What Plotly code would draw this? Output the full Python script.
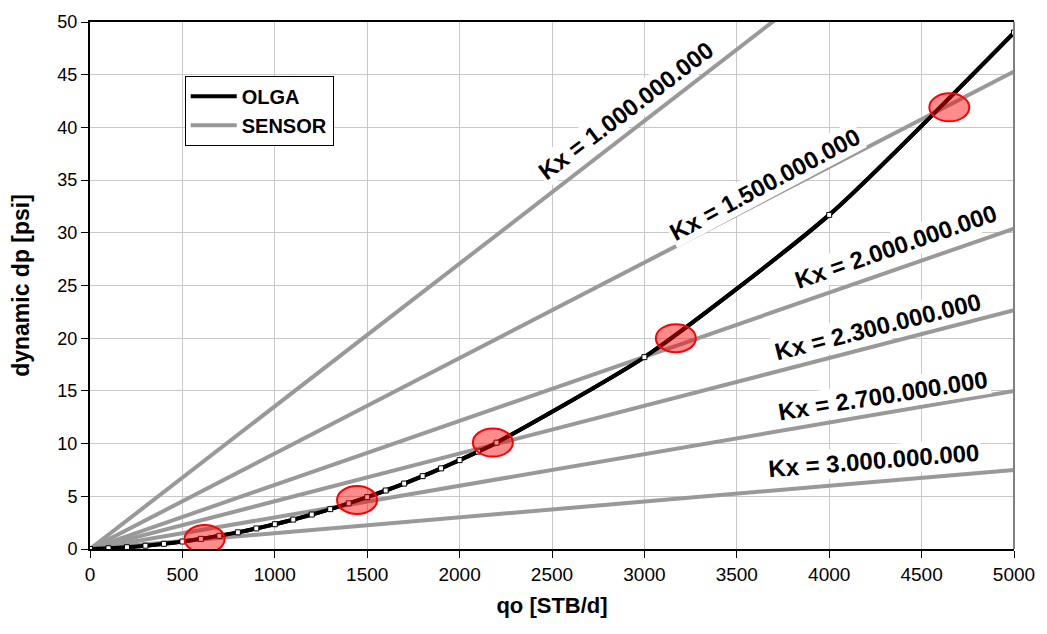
import plotly.graph_objects as go

# ---- data ----
olga_q = [0, 100, 200, 300, 400, 500, 600, 700, 800, 900, 1000, 1100, 1200, 1300,
          1400, 1500, 1600, 1700, 1800, 1900, 2000, 2100, 2200, 3000, 4000, 5000]
olga_dp = [0.0, 0.07, 0.17, 0.31, 0.49, 0.71, 0.96, 1.25, 1.58, 1.95, 2.35, 2.79, 3.27, 3.78,
           4.33, 4.92, 5.55, 6.21, 6.91, 7.65, 8.43, 9.24, 10.09, 18.2, 31.7, 49.0]

sensor_labels = ["Kx = 1.000.000.000", "Kx = 1.500.000.000", "Kx = 2.000.000.000",
                 "Kx = 2.300.000.000", "Kx = 2.700.000.000", "Kx = 3.000.000.000"]
sensor_q = [0, 5000]
sensor_end_dp = [67.7, 45.3, 30.4, 22.65, 15.0, 7.5]

label_q = [2900, 3650, 4360, 4265, 4290, 4240]
label_dp = [41.6, 34.6, 28.7, 21.1, 14.6, 8.4]
label_angle = [-37, -28, -19, -14, -9, -4.5]

match_q = [620, 1445, 2180, 3170, 4650]
match_dp = [0.95, 4.65, 10.1, 20.0, 41.9]

x_ticks = list(range(0, 5001, 500))
y_ticks = list(range(0, 51, 5))

SENSOR_COLOR = "#999999"
FONT = "Liberation Sans, Arial, sans-serif"

fig = go.Figure()

# OLGA legend/line trace
fig.add_trace(go.Scatter(
    x=olga_q, y=olga_dp, mode="lines", name="<b>OLGA</b>",
    line=dict(color="black", width=4, shape="spline", smoothing=0.6),
    legendrank=1))

for i, (lab, end) in enumerate(zip(sensor_labels, sensor_end_dp)):
    fig.add_trace(go.Scatter(
        x=sensor_q, y=[0, end], mode="lines",
        line=dict(color=SENSOR_COLOR, width=4),
        name="<b>SENSOR</b>", showlegend=(i == 0),
        legendrank=2, hoverinfo="skip"))

# OLGA line drawn again on top, with its data-point markers
fig.add_trace(go.Scatter(
    x=olga_q, y=olga_dp, mode="lines+markers", showlegend=False,
    line=dict(color="black", width=4, shape="spline", smoothing=0.6),
    marker=dict(symbol="square", size=5, color="white",
                line=dict(color="black", width=1))))

for lab, q, dp, ang in zip(sensor_labels, label_q, label_dp, label_angle):
    fig.add_annotation(x=q, y=dp, text="<b>" + lab + "</b>", showarrow=False,
                       textangle=ang, bgcolor="white", borderpad=1,
                       font=dict(family=FONT, size=24, color="black"))

for q, dp in zip(match_q, match_dp):
    fig.add_shape(type="circle", xref="x", yref="y",
                  xsizemode="pixel", ysizemode="pixel",
                  xanchor=q, yanchor=dp, x0=-20, x1=20, y0=-14, y1=14,
                  fillcolor="rgba(255,0,0,0.45)",
                  line=dict(color="#ff0000", width=2), layer="above")

# right border (grey)
fig.add_shape(type="line", xref="paper", yref="paper", x0=1, x1=1, y0=0, y1=1,
              line=dict(color="#808080", width=2), layer="above")

fig.update_layout(
    width=1047, height=634,
    margin=dict(l=90, r=27, t=14, b=85),
    paper_bgcolor="white", plot_bgcolor="white",
    font=dict(family=FONT, color="black"),
    showlegend=True,
    legend=dict(x=0.1025, y=0.898, xanchor="left", yanchor="top",
                bgcolor="white", bordercolor="black", borderwidth=1,
                itemwidth=46, tracegroupgap=0,
                font=dict(family=FONT, size=20, color="black")),
)

fig.update_xaxes(
    range=[0, 5000], tickvals=x_ticks, ticktext=[str(v) for v in x_ticks],
    showgrid=True, gridcolor="#c8c8c8", gridwidth=1,
    showline=True, linecolor="black", linewidth=2, mirror=True,
    ticks="outside", ticklen=7, tickcolor="black",
    tickfont=dict(family="Liberation Sans Narrow, Arial Narrow, " + FONT, size=19),
    title=dict(text="<b>qo [STB/d]</b>", font=dict(family=FONT, size=22), standoff=14),
    zeroline=False)

fig.update_yaxes(
    range=[0, 50], tickvals=y_ticks, ticktext=[str(v) for v in y_ticks],
    showgrid=True, gridcolor="#c8c8c8", gridwidth=1,
    showline=True, linecolor="black", linewidth=2,
    ticks="outside", ticklen=7, tickcolor="black",
    tickfont=dict(family=FONT, size=18),
    title=dict(text="<b>dynamic dp [psi]</b>", font=dict(family=FONT, size=23), standoff=21),
    zeroline=False)

fig.write_html("out.html")
